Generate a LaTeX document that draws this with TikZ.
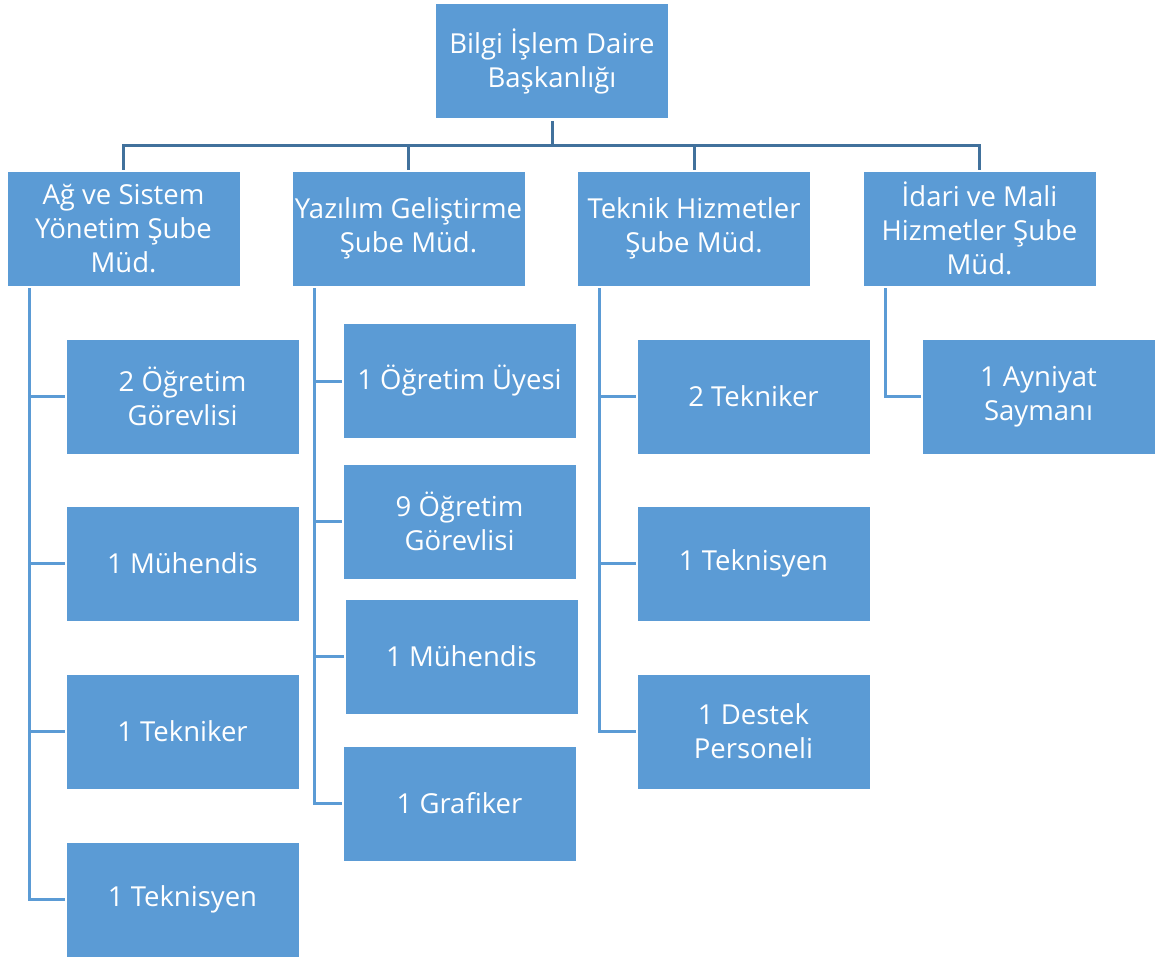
\documentclass[tikz,border=0pt]{standalone}
\usepackage{fontspec}
\setmainfont{Open Sans}
\definecolor{boxblue}{HTML}{5B9BD5}
\definecolor{darkline}{HTML}{41719C}
\begin{document}
\begin{tikzpicture}[x=1pt,y=1pt,
  unit/.style={rectangle, fill=boxblue, draw=white, line width=0.8pt, minimum width=233pt, minimum height=115pt,
    text=white, align=center, font=\fontsize{27.5}{34}\selectfont, inner sep=0pt},
  topline/.style={draw=darkline, line width=3pt},
  childline/.style={draw=boxblue, line width=3pt}]
\useasboundingbox (0,0) rectangle (1157,-959);
\node[unit] (top) at (552,-61) {Bilgi İşlem Daire\\Başkanlığı};
\node[unit] (A) at (123.5,-228.5) {Ağ ve Sistem\\Yönetim Şube\\Müd.};
\node[unit] (B) at (408.5,-228.5) {Yazılım Geliştirme\\Şube Müd.};
\node[unit] (C) at (694,-228.5) {Teknik Hizmetler\\Şube Müd.};
\node[unit] (D) at (979.5,-228.5) {İdari ve Mali\\Hizmetler Şube\\Müd.};
% children of A
\node[unit] (A1) at (182.5,-396.5) {2 Öğretim\\Görevlisi};
\node[unit] (A2) at (182.5,-563.5) {1 Mühendis};
\node[unit] (A3) at (182.5,-731.5) {1 Tekniker};
\node[unit] (A4) at (182.5,-899.5) {1 Teknisyen};
% children of B
\node[unit] (B1) at (459.5,-381) {1 Öğretim Üyesi};
\node[unit] (B2) at (459.5,-521.5) {9 Öğretim\\Görevlisi};
\node[unit] (B3) at (461.5,-656.5) {1 Mühendis};
\node[unit] (B4) at (459.5,-803.5) {1 Grafiker};
% children of C
\node[unit] (C1) at (753.5,-396.5) {2 Tekniker};
\node[unit] (C2) at (753.5,-563.5) {1 Teknisyen};
\node[unit] (C3) at (753.5,-731.5) {1 Destek\\Personeli};
% children of D
\node[unit] (D1) at (1038.5,-396.5) {1 Ayniyat\\Saymanı};
% top connectors
\coordinate (bus) at (552,-145);
\draw[topline] ([yshift=-2pt]top.south) -- (bus);
\draw[topline] ([yshift=1pt]A.north) |- (bus -| D.north) -- ([yshift=1pt]D.north);
\draw[topline] ([yshift=1pt]B.north) -- (B.north |- bus);
\draw[topline] ([yshift=1pt]C.north) -- (C.north |- bus);
% child connectors
\coordinate (Av) at ([xshift=23pt,yshift=-2pt]A.south west);
\coordinate (Bv) at ([xshift=23pt,yshift=-2pt]B.south west);
\coordinate (Cv) at ([xshift=22pt,yshift=-2pt]C.south west);
\coordinate (Dv) at ([xshift=23pt,yshift=-2pt]D.south west);
\draw[childline] (Av) |- ([xshift=-1pt]A4.west);
\draw[childline] (Av |- A1.west) -- ([xshift=-1pt]A1.west);
\draw[childline] (Av |- A2.west) -- ([xshift=-1pt]A2.west);
\draw[childline] (Av |- A3.west) -- ([xshift=-1pt]A3.west);
\draw[childline] (Bv) |- ([xshift=-1pt]B4.west);
\draw[childline] (Bv |- B1.west) -- ([xshift=-1pt]B1.west);
\draw[childline] (Bv |- B2.west) -- ([xshift=-1pt]B2.west);
\draw[childline] (Bv |- B3.west) -- ([xshift=-1pt]B3.west);
\draw[childline] (Cv) |- ([xshift=-1pt]C3.west);
\draw[childline] (Cv |- C1.west) -- ([xshift=-1pt]C1.west);
\draw[childline] (Cv |- C2.west) -- ([xshift=-1pt]C2.west);
\draw[childline] (Dv) |- ([xshift=-1pt]D1.west);
\end{tikzpicture}
\end{document}
